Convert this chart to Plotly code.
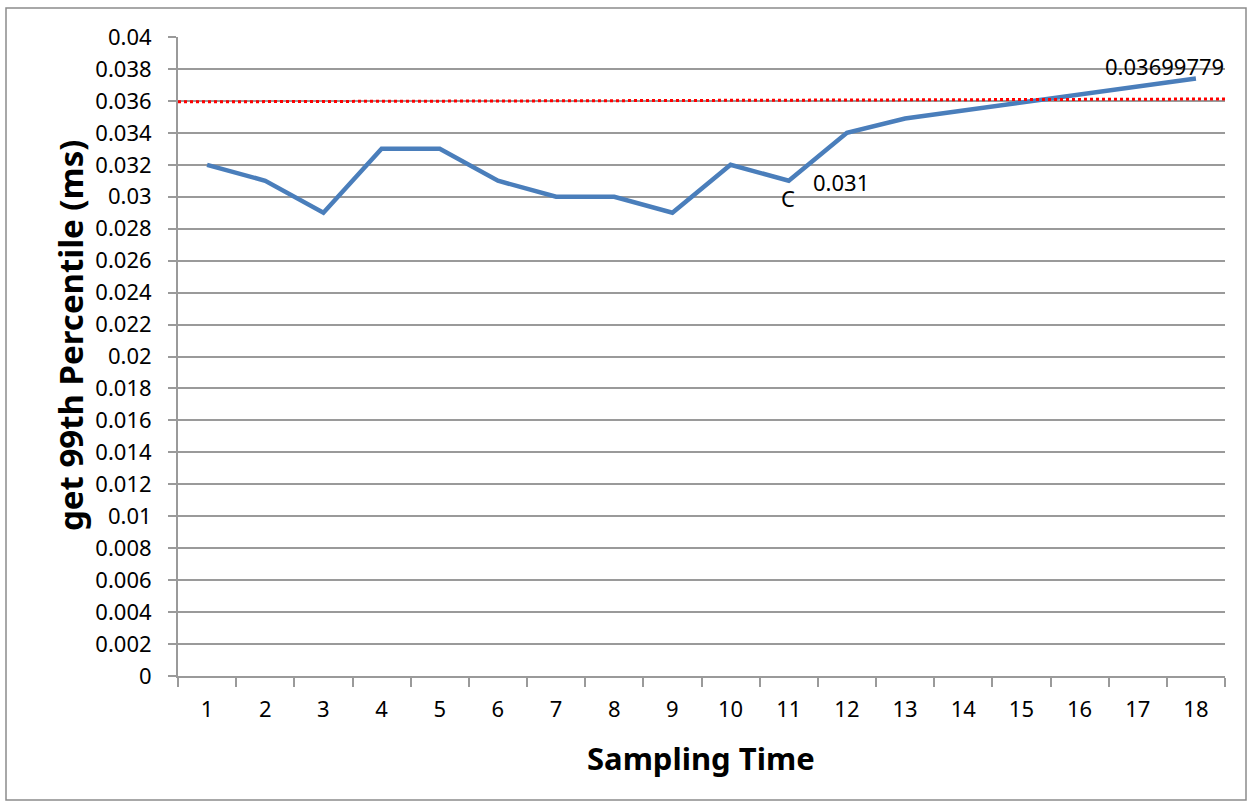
import plotly.graph_objects as go

sampling_time = list(range(1, 19))
p99_ms = [0.032, 0.031, 0.029, 0.033, 0.033, 0.031, 0.030, 0.030, 0.029,
          0.032, 0.031, 0.034, 0.0349, 0.0354, 0.03595, 0.0364, 0.0369, 0.0374]
threshold_x = [0.5, 18.5]
threshold_y = [0.03594, 0.03612]
y_ticks = [round(i * 0.002, 3) for i in range(21)]
y_tick_labels = ["0" if v == 0 else ("%g" % v) for v in y_ticks]

W, H = 1253, 808
L, R, T, B = 178, 28, 37, 132
pw, ph = W - L - R, H - T - B

font = "Noto Sans, Open Sans, sans-serif"
grid = "#9a9a9a"


def px_x(p):
    return (p - L) / pw


def px_y(p):
    return (H - B - p) / ph


fig = go.Figure()
fig.add_trace(go.Scatter(x=sampling_time, y=p99_ms, mode="lines",
                         line=dict(color="#4A7EBB", width=4.5), showlegend=False))
fig.add_trace(go.Scatter(x=threshold_x, y=threshold_y, mode="lines",
                         line=dict(color="#FF0000", width=3, dash="dot"), showlegend=False))

fig.add_annotation(x=11, y=p99_ms[10], text="C", showarrow=False, xshift=-1, yshift=-17,
                   font=dict(family=font, size=22, color="black"))
fig.add_annotation(x=11, y=p99_ms[10], text="0.031", showarrow=False, xshift=52, yshift=-1,
                   font=dict(family=font, size=22, color="black"))
fig.add_annotation(x=18, y=p99_ms[17], text="0.03699779", showarrow=False, xshift=-31, yshift=13,
                   font=dict(family=font, size=22, color="black"))

# axis titles
fig.add_annotation(xref="paper", yref="paper", x=px_x(701), y=px_y(758),
                   xanchor="center", yanchor="middle",
                   text="<b>Sampling Time</b>", showarrow=False,
                   font=dict(family=font, size=31, color="black"))
fig.add_annotation(xref="paper", yref="paper", x=px_x(70), y=px_y(336),
                   xanchor="center", yanchor="middle",
                   text="<b>get 99th Percentile (ms)</b>", showarrow=False, textangle=-90,
                   font=dict(family=font, size=33, color="black"))

# outer chart border
fig.add_shape(type="rect", xref="paper", yref="paper",
              x0=px_x(6), x1=px_x(1246), y0=px_y(800), y1=px_y(8),
              line=dict(color="#8c8c8c", width=1.5), layer="below")

fig.update_layout(
    width=W, height=H, margin=dict(l=L, r=R, t=T, b=B),
    plot_bgcolor="white", paper_bgcolor="white",
    font=dict(family=font, size=22, color="black"),
    xaxis=dict(range=[0.5, 18.5], tickmode="array", tickvals=sampling_time,
               ticktext=[str(v) for v in sampling_time], ticks="", showgrid=False,
               showline=True, linecolor=grid, linewidth=2, zeroline=False,
               tickfont=dict(size=22), ticklabelstandoff=13,
               minor=dict(tickmode="linear", tick0=0.5, dtick=1, ticks="outside",
                          ticklen=9, tickcolor=grid, tickwidth=2, showgrid=False)),
    yaxis=dict(range=[0, 0.04], tickmode="array", tickvals=y_ticks, ticktext=y_tick_labels,
               ticks="outside", ticklen=8, tickcolor=grid, tickwidth=2,
               showgrid=True, gridcolor=grid, gridwidth=1.5,
               showline=True, linecolor=grid, linewidth=2, zeroline=False,
               tickfont=dict(size=22), ticklabelstandoff=12),
)

fig.write_html("out.html")
